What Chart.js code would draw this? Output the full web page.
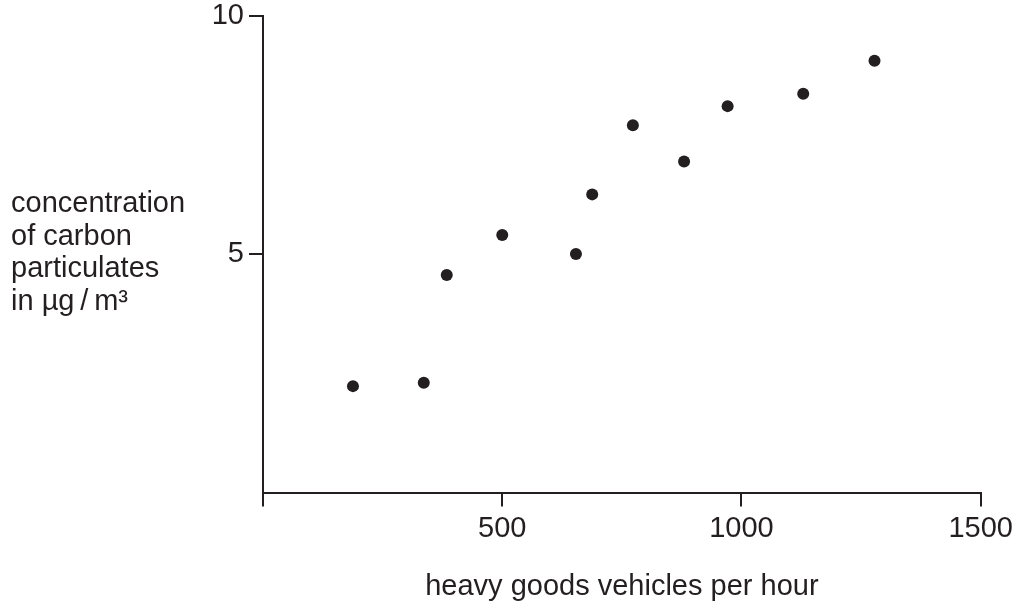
<!DOCTYPE html>
<html>
<head>
<meta charset="utf-8">
<script src="https://cdn.jsdelivr.net/npm/chart.js@4.4.1/dist/chart.umd.min.js"></script>
<style>
    html, body { margin: 0; padding: 0; background: #fff; }
    #wrap { width: 1018px; height: 604px; }
</style>
</head>
<body>
<div id="wrap"><canvas id="myChart" width="1018" height="604"></canvas></div>
<script>
// values
const vehiclesPerHour = [188, 336, 384, 500, 654, 688, 773, 880, 971, 1129, 1278];
const carbonConc = [2.23, 2.30, 4.56, 5.40, 5.00, 6.25, 7.70, 6.94, 8.10, 8.36, 9.05];
const xTicks = [0, 500, 1000, 1500];
const yTicks = [0, 5, 10];
const xTitle = 'heavy goods vehicles per hour';
const yTitleLines = ['concentration', 'of carbon', 'particulates', 'in \u00b5g\u2009/\u2009m\u00b3'];

const ink = '#231f20';
const fontFamily = "'Liberation Sans', Arial, Helvetica, sans-serif";

const points = vehiclesPerHour.map((x, i) => ({ x: x, y: carbonConc[i] }));

// titles are drawn by hand, the y one sits flat on the left
const axisTitles = {
    id: 'axisTitles',
    afterDraw(chart) {
        const ctx = chart.ctx;
        const area = chart.chartArea;
        ctx.save();
        ctx.fillStyle = ink;
        ctx.font = '29px ' + fontFamily;
        ctx.textBaseline = 'alphabetic';
        ctx.textAlign = 'center';
        ctx.fillText(xTitle, (area.left + area.right) / 2, 595);
        ctx.textAlign = 'left';
        yTitleLines.forEach((line, i) => {
            ctx.fillText(line, 11, 212 + i * 32.7);
        });
        ctx.restore();
    }
};

const ctx = document.getElementById('myChart').getContext('2d');
window.myChartInstance = new Chart(ctx, {
    type: 'scatter',
    data: {
        datasets: [{
            data: points,
            backgroundColor: ink,
            borderWidth: 0,
            pointRadius: 6,
            pointHoverRadius: 6
        }]
    },
    options: {
        responsive: false,
        animation: false,
        devicePixelRatio: 1,
        layout: { padding: { top: 0, right: 36, left: 0, bottom: 0 } },
        plugins: {
            legend: { display: false },
            tooltip: { enabled: false }
        },
        scales: {
            x: {
                type: 'linear',
                min: 0,
                max: 1500,
                afterBuildTicks: (axis) => { axis.ticks = xTicks.map(v => ({ value: v })); },
                afterFit: (axis) => { axis.height = 111.5; },
                border: { display: true, color: ink, width: 2 },
                grid: {
                    display: true,
                    drawOnChartArea: false,
                    drawTicks: true,
                    tickLength: 14,
                    color: ink,
                    lineWidth: 2
                },
                ticks: {
                    padding: 5,
                    color: ink,
                    font: { family: fontFamily, size: 29 },
                    maxRotation: 0,
                    callback: function (value) {
                        return value === 0 ? '' : value;
                    }
                }
            },
            y: {
                type: 'linear',
                min: 0,
                max: 10,
                afterBuildTicks: (axis) => { axis.ticks = yTicks.map(v => ({ value: v })); },
                afterFit: (axis) => {
                    axis.width = 263;
                    axis.paddingTop = 15.5;
                },
                border: { display: true, color: ink, width: 2 },
                grid: {
                    display: true,
                    drawOnChartArea: false,
                    drawTicks: true,
                    tickLength: 14,
                    color: ink,
                    lineWidth: 2
                },
                ticks: {
                    padding: 5,
                    color: ink,
                    font: { family: fontFamily, size: 29, lineHeight: 1.07 },
                    callback: function (value) {
                        return value === 0 ? null : value;
                    }
                }
            }
        }
    },
    plugins: [axisTitles]
});
</script>
</body>
</html>
